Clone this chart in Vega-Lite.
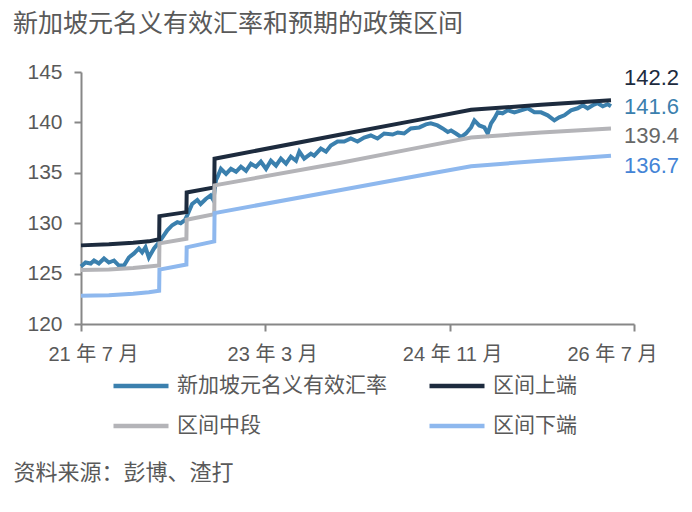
{
  "$schema": "https://vega.github.io/schema/vega-lite/v6.json",
  "autosize": {"type": "none"},
  "padding": {"left": 81, "top": 72, "right": 58, "bottom": 188},
  "width": 553,
  "height": 252,
  "background": "white",
  "config": {
    "view": {"stroke": null},
    "font": "Liberation Sans"
  },
  "title": {
    "text": "新加坡元名义有效汇率和预期的政策区间",
    "anchor": "start",
    "frame": "group",
    "dx": -68,
    "fontSize": 25,
    "fontWeight": "normal",
    "font": "Noto Sans CJK SC",
    "color": "#595959",
    "offset": 24
  },
  "data": {
    "format": {"parse": {"date": "date"}},
    "values": [
      {"series": "新加坡元名义有效汇率", "date": "2021-07-01", "value": 125.7},
      {"series": "新加坡元名义有效汇率", "date": "2021-07-16", "value": 126.1},
      {"series": "新加坡元名义有效汇率", "date": "2021-08-02", "value": 126.0},
      {"series": "新加坡元名义有效汇率", "date": "2021-08-13", "value": 126.3},
      {"series": "新加坡元名义有效汇率", "date": "2021-08-29", "value": 126.0},
      {"series": "新加坡元名义有效汇率", "date": "2021-09-15", "value": 126.5},
      {"series": "新加坡元名义有效汇率", "date": "2021-10-01", "value": 126.1},
      {"series": "新加坡元名义有效汇率", "date": "2021-10-18", "value": 126.3},
      {"series": "新加坡元名义有效汇率", "date": "2021-11-03", "value": 125.8},
      {"series": "新加坡元名义有效汇率", "date": "2021-11-20", "value": 125.8},
      {"series": "新加坡元名义有效汇率", "date": "2021-12-06", "value": 126.6},
      {"series": "新加坡元名义有效汇率", "date": "2021-12-23", "value": 127.0},
      {"series": "新加坡元名义有效汇率", "date": "2022-01-08", "value": 127.5},
      {"series": "新加坡元名义有效汇率", "date": "2022-01-19", "value": 127.1},
      {"series": "新加坡元名义有效汇率", "date": "2022-01-30", "value": 127.6},
      {"series": "新加坡元名义有效汇率", "date": "2022-02-10", "value": 126.6},
      {"series": "新加坡元名义有效汇率", "date": "2022-02-27", "value": 127.5},
      {"series": "新加坡元名义有效汇率", "date": "2022-03-13", "value": 128.0},
      {"series": "新加坡元名义有效汇率", "date": "2022-03-27", "value": 128.6},
      {"series": "新加坡元名义有效汇率", "date": "2022-04-12", "value": 129.3},
      {"series": "新加坡元名义有效汇率", "date": "2022-04-28", "value": 129.8},
      {"series": "新加坡元名义有效汇率", "date": "2022-05-15", "value": 130.1},
      {"series": "新加坡元名义有效汇率", "date": "2022-05-26", "value": 130.0},
      {"series": "新加坡元名义有效汇率", "date": "2022-06-09", "value": 130.3},
      {"series": "新加坡元名义有效汇率", "date": "2022-06-17", "value": 130.8},
      {"series": "新加坡元名义有效汇率", "date": "2022-07-03", "value": 131.9},
      {"series": "新加坡元名义有效汇率", "date": "2022-07-20", "value": 132.3},
      {"series": "新加坡元名义有效汇率", "date": "2022-07-31", "value": 131.9},
      {"series": "新加坡元名义有效汇率", "date": "2022-08-17", "value": 132.4},
      {"series": "新加坡元名义有效汇率", "date": "2022-09-02", "value": 132.75},
      {"series": "新加坡元名义有效汇率", "date": "2022-09-11", "value": 132.3},
      {"series": "新加坡元名义有效汇率", "date": "2022-09-20", "value": 134.3},
      {"series": "新加坡元名义有效汇率", "date": "2022-09-25", "value": 134.6},
      {"series": "新加坡元名义有效汇率", "date": "2022-10-06", "value": 135.4},
      {"series": "新加坡元名义有效汇率", "date": "2022-10-23", "value": 134.9},
      {"series": "新加坡元名义有效汇率", "date": "2022-11-08", "value": 135.4},
      {"series": "新加坡元名义有效汇率", "date": "2022-11-25", "value": 135.1},
      {"series": "新加坡元名义有效汇率", "date": "2022-12-11", "value": 135.6},
      {"series": "新加坡元名义有效汇率", "date": "2022-12-28", "value": 135.2},
      {"series": "新加坡元名义有效汇率", "date": "2023-01-13", "value": 135.9},
      {"series": "新加坡元名义有效汇率", "date": "2023-01-30", "value": 135.6},
      {"series": "新加坡元名义有效汇率", "date": "2023-02-15", "value": 136.1},
      {"series": "新加坡元名义有效汇率", "date": "2023-03-04", "value": 135.4},
      {"series": "新加坡元名义有效汇率", "date": "2023-03-20", "value": 136.2},
      {"series": "新加坡元名义有效汇率", "date": "2023-04-06", "value": 135.7},
      {"series": "新加坡元名义有效汇率", "date": "2023-04-22", "value": 136.4},
      {"series": "新加坡元名义有效汇率", "date": "2023-05-09", "value": 135.9},
      {"series": "新加坡元名义有效汇率", "date": "2023-05-25", "value": 136.6},
      {"series": "新加坡元名义有效汇率", "date": "2023-06-11", "value": 136.2},
      {"series": "新加坡元名义有效汇率", "date": "2023-06-22", "value": 137.1},
      {"series": "新加坡元名义有效汇率", "date": "2023-07-08", "value": 136.4},
      {"series": "新加坡元名义有效汇率", "date": "2023-07-30", "value": 136.9},
      {"series": "新加坡元名义有效汇率", "date": "2023-08-10", "value": 136.7},
      {"series": "新加坡元名义有效汇率", "date": "2023-09-01", "value": 137.4},
      {"series": "新加坡元名义有效汇率", "date": "2023-09-18", "value": 137.1},
      {"series": "新加坡元名义有效汇率", "date": "2023-10-04", "value": 137.7},
      {"series": "新加坡元名义有效汇率", "date": "2023-10-26", "value": 138.1},
      {"series": "新加坡元名义有效汇率", "date": "2023-11-17", "value": 138.1},
      {"series": "新加坡元名义有效汇率", "date": "2023-12-09", "value": 138.4},
      {"series": "新加坡元名义有效汇率", "date": "2023-12-31", "value": 138.1},
      {"series": "新加坡元名义有效汇率", "date": "2024-01-22", "value": 138.5},
      {"series": "新加坡元名义有效汇率", "date": "2024-02-13", "value": 138.7},
      {"series": "新加坡元名义有效汇率", "date": "2024-03-06", "value": 138.4},
      {"series": "新加坡元名义有效汇率", "date": "2024-03-28", "value": 138.9},
      {"series": "新加坡元名义有效汇率", "date": "2024-04-25", "value": 138.8},
      {"series": "新加坡元名义有效汇率", "date": "2024-05-12", "value": 139.0},
      {"series": "新加坡元名义有效汇率", "date": "2024-06-02", "value": 138.9},
      {"series": "新加坡元名义有效汇率", "date": "2024-06-24", "value": 139.4},
      {"series": "新加坡元名义有效汇率", "date": "2024-07-22", "value": 139.5},
      {"series": "新加坡元名义有效汇率", "date": "2024-08-13", "value": 139.8},
      {"series": "新加坡元名义有效汇率", "date": "2024-08-29", "value": 139.9},
      {"series": "新加坡元名义有效汇率", "date": "2024-09-20", "value": 139.7},
      {"series": "新加坡元名义有效汇率", "date": "2024-10-07", "value": 139.4},
      {"series": "新加坡元名义有效汇率", "date": "2024-10-24", "value": 139.05},
      {"series": "新加坡元名义有效汇率", "date": "2024-11-04", "value": 139.2},
      {"series": "新加坡元名义有效汇率", "date": "2024-11-20", "value": 138.9},
      {"series": "新加坡元名义有效汇率", "date": "2024-12-07", "value": 138.55},
      {"series": "新加坡元名义有效汇率", "date": "2024-12-23", "value": 138.9},
      {"series": "新加坡元名义有效汇率", "date": "2025-01-09", "value": 139.5},
      {"series": "新加坡元名义有效汇率", "date": "2025-01-20", "value": 140.2},
      {"series": "新加坡元名义有效汇率", "date": "2025-02-05", "value": 139.7},
      {"series": "新加坡元名义有效汇率", "date": "2025-02-22", "value": 139.5},
      {"series": "新加坡元名义有效汇率", "date": "2025-03-05", "value": 138.9},
      {"series": "新加坡元名义有效汇率", "date": "2025-03-16", "value": 139.9},
      {"series": "新加坡元名义有效汇率", "date": "2025-03-27", "value": 140.4},
      {"series": "新加坡元名义有效汇率", "date": "2025-04-07", "value": 141.0},
      {"series": "新加坡元名义有效汇率", "date": "2025-04-23", "value": 140.9},
      {"series": "新加坡元名义有效汇率", "date": "2025-05-10", "value": 141.2},
      {"series": "新加坡元名义有效汇率", "date": "2025-06-01", "value": 141.0},
      {"series": "新加坡元名义有效汇率", "date": "2025-06-23", "value": 141.2},
      {"series": "新加坡元名义有效汇率", "date": "2025-07-15", "value": 141.4},
      {"series": "新加坡元名义有效汇率", "date": "2025-08-06", "value": 141.0},
      {"series": "新加坡元名义有效汇率", "date": "2025-08-28", "value": 141.0},
      {"series": "新加坡元名义有效汇率", "date": "2025-09-19", "value": 140.7},
      {"series": "新加坡元名义有效汇率", "date": "2025-10-11", "value": 140.2},
      {"series": "新加坡元名义有效汇率", "date": "2025-10-27", "value": 140.5},
      {"series": "新加坡元名义有效汇率", "date": "2025-11-13", "value": 140.7},
      {"series": "新加坡元名义有效汇率", "date": "2025-12-05", "value": 141.2},
      {"series": "新加坡元名义有效汇率", "date": "2025-12-27", "value": 141.4},
      {"series": "新加坡元名义有效汇率", "date": "2026-01-13", "value": 141.7},
      {"series": "新加坡元名义有效汇率", "date": "2026-01-29", "value": 141.4},
      {"series": "新加坡元名义有效汇率", "date": "2026-02-15", "value": 141.7},
      {"series": "新加坡元名义有效汇率", "date": "2026-03-03", "value": 141.9},
      {"series": "新加坡元名义有效汇率", "date": "2026-03-20", "value": 141.6},
      {"series": "新加坡元名义有效汇率", "date": "2026-04-05", "value": 141.8},
      {"series": "新加坡元名义有效汇率", "date": "2026-04-16", "value": 141.6},

      {"series": "区间上端", "date": "2021-07-01", "value": 127.8},
      {"series": "区间上端", "date": "2021-10-01", "value": 127.9},
      {"series": "区间上端", "date": "2021-12-20", "value": 128.05},
      {"series": "区间上端", "date": "2022-02-10", "value": 128.2},
      {"series": "区间上端", "date": "2022-03-16", "value": 128.4},
      {"series": "区间上端", "date": "2022-03-17", "value": 130.7},
      {"series": "区间上端", "date": "2022-06-14", "value": 131.1},
      {"series": "区间上端", "date": "2022-06-15", "value": 133.05},
      {"series": "区间上端", "date": "2022-09-14", "value": 133.55},
      {"series": "区间上端", "date": "2022-09-15", "value": 136.4},
      {"series": "区间上端", "date": "2023-11-06", "value": 138.8},
      {"series": "区间上端", "date": "2024-07-28", "value": 140.3},
      {"series": "区间上端", "date": "2025-01-09", "value": 141.25},
      {"series": "区间上端", "date": "2025-08-28", "value": 141.75},
      {"series": "区间上端", "date": "2026-04-16", "value": 142.2},

      {"series": "区间中段", "date": "2021-07-01", "value": 125.35},
      {"series": "区间中段", "date": "2021-10-01", "value": 125.4},
      {"series": "区间中段", "date": "2021-12-20", "value": 125.55},
      {"series": "区间中段", "date": "2022-02-10", "value": 125.7},
      {"series": "区间中段", "date": "2022-03-16", "value": 125.8},
      {"series": "区间中段", "date": "2022-03-17", "value": 128.0},
      {"series": "区间中段", "date": "2022-06-14", "value": 128.45},
      {"series": "区间中段", "date": "2022-06-15", "value": 130.35},
      {"series": "区间中段", "date": "2022-09-14", "value": 130.9},
      {"series": "区间中段", "date": "2022-09-15", "value": 133.75},
      {"series": "区间中段", "date": "2023-11-06", "value": 136.0},
      {"series": "区间中段", "date": "2024-07-28", "value": 137.55},
      {"series": "区间中段", "date": "2025-01-09", "value": 138.5},
      {"series": "区间中段", "date": "2025-08-28", "value": 139.0},
      {"series": "区间中段", "date": "2026-04-16", "value": 139.4},

      {"series": "区间下端", "date": "2021-07-01", "value": 122.8},
      {"series": "区间下端", "date": "2021-10-01", "value": 122.85},
      {"series": "区间下端", "date": "2021-12-20", "value": 123.0},
      {"series": "区间下端", "date": "2022-02-10", "value": 123.15},
      {"series": "区间下端", "date": "2022-03-16", "value": 123.3},
      {"series": "区间下端", "date": "2022-03-17", "value": 125.4},
      {"series": "区间下端", "date": "2022-06-14", "value": 125.9},
      {"series": "区间下端", "date": "2022-06-15", "value": 127.6},
      {"series": "区间下端", "date": "2022-09-14", "value": 128.2},
      {"series": "区间下端", "date": "2022-09-15", "value": 131.0},
      {"series": "区间下端", "date": "2023-11-06", "value": 133.3},
      {"series": "区间下端", "date": "2024-07-28", "value": 134.75},
      {"series": "区间下端", "date": "2025-01-09", "value": 135.65},
      {"series": "区间下端", "date": "2025-08-28", "value": 136.2},
      {"series": "区间下端", "date": "2026-04-16", "value": 136.7}
    ]
  },
  "encoding": {
    "x": {
      "field": "date",
      "type": "temporal",
      "scale": {
        "type": "utc",
        "domain": [
          {"year": 2021, "month": 7, "date": 1, "utc": true},
          {"year": 2026, "month": 7, "date": 1, "utc": true}
        ]
      },
      "axis": {
        "values": [
          {"year": 2021, "month": 7, "date": 1, "utc": true},
          {"year": 2023, "month": 3, "date": 1, "utc": true},
          {"year": 2024, "month": 11, "date": 1, "utc": true},
          {"year": 2026, "month": 7, "date": 1, "utc": true}
        ],
        "labelExpr": "utcFormat(datum.value, '%y') + ' 年 ' + (utcmonth(datum.value) + 1) + ' 月'",
        "labelFont": "Liberation Sans, Noto Sans CJK SC",
        "labelFontSize": 20,
        "labelColor": "#595959",
        "labelPadding": 13,
        "labelFlush": false,
        "labelOverlap": false,
        "labelOffset": {
          "condition": [
            {"test": "utcyear(datum.value) == 2021", "value": 12},
            {"test": "utcyear(datum.value) == 2023", "value": 7},
            {"test": "utcyear(datum.value) == 2024", "value": 2}
          ],
          "value": -22
        },
        "grid": false,
        "domainColor": "#878787",
        "domainWidth": 2,
        "tickColor": "#878787",
        "tickWidth": 2,
        "tickSize": 7,
        "title": "资料来源：彭博、渣打",
        "titleFont": "Noto Sans CJK SC",
        "titleFontSize": 22,
        "titleFontWeight": "normal",
        "titleColor": "#595959",
        "titleAnchor": "start",
        "titleAlign": "left",
        "titleBaseline": "middle",
        "titleX": -68,
        "titleY": 148
      }
    },
    "y": {
      "field": "value",
      "type": "quantitative",
      "scale": {"domain": [120, 145], "nice": false, "zero": false},
      "axis": {
        "values": [120, 125, 130, 135, 140, 145],
        "title": null,
        "grid": false,
        "labelFontSize": 21,
        "labelColor": "#595959",
        "labelPadding": 12,
        "domainColor": "#878787",
        "domainWidth": 2,
        "tickColor": "#878787",
        "tickWidth": 2,
        "tickSize": 7
      }
    }
  },
  "layer": [
    {
      "mark": {"type": "line", "strokeWidth": 4, "interpolate": "linear"},
      "encoding": {
        "color": {
          "field": "series",
          "type": "nominal",
          "scale": {
            "domain": ["新加坡元名义有效汇率", "区间中段", "区间上端", "区间下端"],
            "range": ["#3b80ae", "#b4b4b8", "#1d2b3e", "#8eb8ee"]
          },
          "legend": {
            "title": null,
            "orient": "none",
            "legendX": 30,
            "legendY": 284,
            "columns": 2,
            "columnPadding": 33,
            "rowPadding": -21,
            "symbolType": "stroke",
            "symbolSize": 3025,
            "symbolStrokeWidth": 4.5,
            "labelFont": "Noto Sans CJK SC",
            "labelFontSize": 21,
            "labelColor": "#595959",
            "labelOffset": 6,
            "labelLimit": 400
          }
        }
      }
    },
    {
      "transform": [
        {"filter": {"field": "series", "equal": "区间上端"}},
        {"aggregate": [{"op": "argmax", "field": "date", "as": "last"}], "groupby": ["series"]}
      ],
      "mark": {"type": "text", "align": "left", "baseline": "middle", "dx": 13, "dy": -22, "fontSize": 22, "color": "#1d2b3e"},
      "encoding": {
        "x": {"field": "last.date", "type": "temporal"},
        "y": {"field": "last.value", "type": "quantitative"},
        "text": {"field": "last.value", "type": "quantitative", "format": ".1f"}
      }
    },
    {
      "transform": [
        {"filter": {"field": "series", "equal": "新加坡元名义有效汇率"}},
        {"aggregate": [{"op": "argmax", "field": "date", "as": "last"}], "groupby": ["series"]}
      ],
      "mark": {"type": "text", "align": "left", "baseline": "middle", "dx": 13, "dy": 1, "fontSize": 22, "color": "#3b80ae"},
      "encoding": {
        "x": {"field": "last.date", "type": "temporal"},
        "y": {"field": "last.value", "type": "quantitative"},
        "text": {"field": "last.value", "type": "quantitative", "format": ".1f"}
      }
    },
    {
      "transform": [
        {"filter": {"field": "series", "equal": "区间中段"}},
        {"aggregate": [{"op": "argmax", "field": "date", "as": "last"}], "groupby": ["series"]}
      ],
      "mark": {"type": "text", "align": "left", "baseline": "middle", "dx": 13, "dy": 8, "fontSize": 22, "color": "#676767"},
      "encoding": {
        "x": {"field": "last.date", "type": "temporal"},
        "y": {"field": "last.value", "type": "quantitative"},
        "text": {"field": "last.value", "type": "quantitative", "format": ".1f"}
      }
    },
    {
      "transform": [
        {"filter": {"field": "series", "equal": "区间下端"}},
        {"aggregate": [{"op": "argmax", "field": "date", "as": "last"}], "groupby": ["series"]}
      ],
      "mark": {"type": "text", "align": "left", "baseline": "middle", "dx": 13, "dy": 10, "fontSize": 22, "color": "#4484d6"},
      "encoding": {
        "x": {"field": "last.date", "type": "temporal"},
        "y": {"field": "last.value", "type": "quantitative"},
        "text": {"field": "last.value", "type": "quantitative", "format": ".1f"}
      }
    }
  ]
}
